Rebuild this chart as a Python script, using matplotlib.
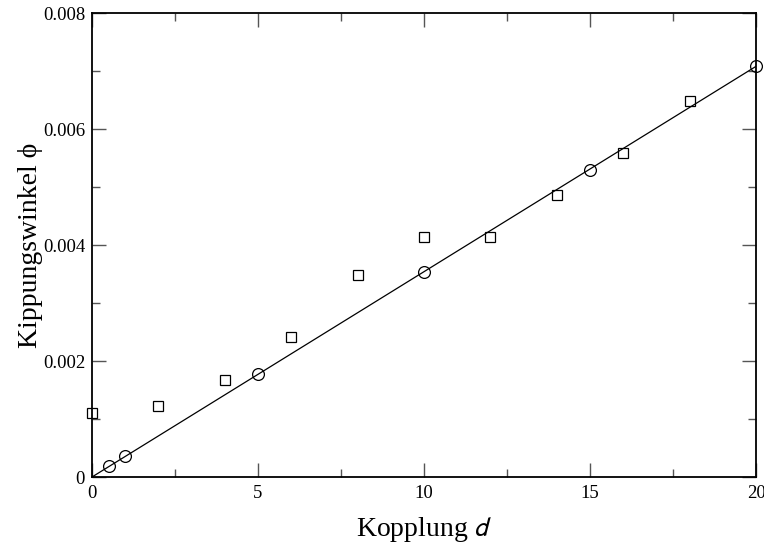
import matplotlib
matplotlib.use("Agg")
import matplotlib.pyplot as plt
from matplotlib.ticker import MultipleLocator, FixedFormatter, FixedLocator

# Data
square_x = [0, 2, 4, 6, 8, 10, 12, 14, 16, 18]
square_y = [0.00111, 0.00123, 0.00167, 0.00241, 0.00348, 0.00414, 0.00414, 0.00486, 0.00559, 0.00648]
circle_x = [0.5, 1, 5, 10, 15, 20]
circle_y = [0.000195, 0.000366, 0.00177, 0.00353, 0.00530, 0.00708]
line_x = [0, 20]
line_y = [0.0, 0.00708]

x_ticks = [0, 5, 10, 15, 20]
x_labels = ["0", "5", "10", "15", "20"]
y_ticks = [0, 0.002, 0.004, 0.006, 0.008]
y_labels = ["0", "0.002", "0.004", "0.006", "0.008"]

serif = ['Liberation Serif', 'DejaVu Serif']
plt.rcParams['font.family'] = serif
plt.rcParams['mathtext.fontset'] = 'stixsans'

fig = plt.figure(figsize=(7.64, 5.48), dpi=100)
ax = fig.add_axes([92/764, 1-477/548, (756-92)/764, (477-13)/548])

ax.plot(line_x, line_y, color='black', lw=0.9, zorder=2)
ax.plot(circle_x, circle_y, linestyle='none', marker='o', ms=8.5,
        mfc='none', mec='black', mew=0.9, zorder=3, clip_on=False)
ax.plot(square_x, square_y, linestyle='none', marker='s', ms=7.5,
        mfc='none', mec='black', mew=0.9, zorder=3, clip_on=False)

ax.set_xlim(0, 20)
ax.set_ylim(0, 0.008)
ax.xaxis.set_major_locator(FixedLocator(x_ticks))
ax.xaxis.set_major_formatter(FixedFormatter(x_labels))
ax.yaxis.set_major_locator(FixedLocator(y_ticks))
ax.yaxis.set_major_formatter(FixedFormatter(y_labels))
ax.xaxis.set_minor_locator(MultipleLocator(2.5))
ax.yaxis.set_minor_locator(MultipleLocator(0.001))

ax.tick_params(which='both', direction='in', top=True, right=True,
               color='#555555', width=1.0, labelsize=13.5, labelcolor='black')
ax.tick_params(which='major', length=10)
ax.tick_params(which='minor', length=5.5)
ax.tick_params(axis='y', which='major', pad=5)
ax.tick_params(axis='x', which='major', pad=6)

for s in ax.spines.values():
    s.set_linewidth(1.3)
    s.set_color('black')

ax.set_xlabel("Kopplung $d$", fontsize=20, labelpad=9)
ax.set_ylabel("Kippungswinkel ϕ", fontsize=20, labelpad=0)

fig.savefig("out.png", dpi=100)
